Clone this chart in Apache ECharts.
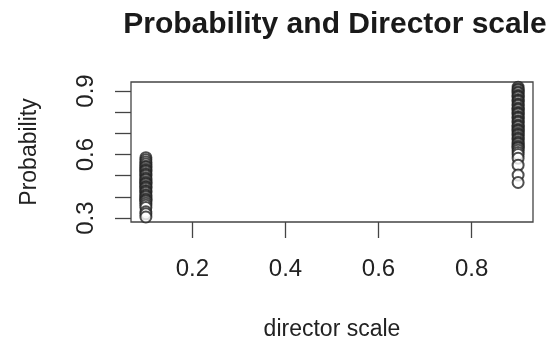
<!DOCTYPE html>
<html><head><meta charset="utf-8">
<script src="https://cdn.jsdelivr.net/npm/echarts@6/dist/echarts.min.js"></script>
<style>html,body{margin:0;padding:0;background:#fff}#c{width:551px;height:344px}</style>
</head><body><div id="c"></div>
<script>
var titleText = 'Probability and Director scale';
var xName = 'director scale';
var yName = 'Probability';
var xTicks = [0.2, 0.4, 0.6, 0.8];
var yTicks = [0.3, 0.4, 0.5, 0.6, 0.7, 0.8, 0.9];
var yLabels = [0.3, 0.6, 0.9];
var lowX = 0.1;
var lowY = [0.585, 0.575, 0.565, 0.555, 0.545, 0.54, 0.53, 0.525, 0.52, 0.51, 0.505, 0.50, 0.49, 0.485, 0.48, 0.47, 0.465, 0.46, 0.45, 0.445, 0.44, 0.43, 0.425, 0.42, 0.41, 0.405, 0.40, 0.39, 0.385, 0.38, 0.37, 0.36, 0.35, 0.33, 0.32, 0.305];
var highX = 0.9;
var highY = [0.918, 0.91, 0.905, 0.895, 0.89, 0.88, 0.875, 0.87, 0.86, 0.855, 0.85, 0.84, 0.835, 0.83, 0.82, 0.815, 0.81, 0.80, 0.795, 0.79, 0.78, 0.775, 0.77, 0.76, 0.755, 0.75, 0.74, 0.735, 0.73, 0.72, 0.715, 0.71, 0.70, 0.695, 0.69, 0.68, 0.675, 0.67, 0.66, 0.655, 0.65, 0.64, 0.635, 0.63, 0.62, 0.61, 0.60, 0.583, 0.55, 0.503, 0.468];

var data = lowY.map(function(v){return [lowX, v];}).concat(highY.map(function(v){return [highX, v];}));
var font = 'Liberation Sans, Arial, sans-serif';
var chart = echarts.init(document.getElementById('c'), null, {renderer:'canvas'});
chart.setOption({
  animation:false,
  backgroundColor:'#fff',
  title:{text:titleText, left:330, top:5, textAlign:'center',
    textStyle:{fontFamily:font, fontSize:30, fontWeight:'bold', color:'#1a1a1a'}},
  grid:{left:131, right:18, top:82, bottom:122, show:true, borderColor:'#444', borderWidth:1.3, backgroundColor:'transparent'},
  xAxis:{type:'value', min:0.068, max:0.932,
    name:xName, nameLocation:'middle', nameGap:96,
    nameTextStyle:{fontFamily:font, fontSize:23, color:'#222'},
    axisLine:{show:false},
    splitLine:{show:false},
    axisTick:{show:true, length:16, customValues:xTicks, lineStyle:{color:'#444', width:1.3}},
    axisLabel:{customValues:xTicks, margin:35, fontFamily:font, fontSize:24, color:'#222',
      formatter:function(v){return v.toFixed(1);}}
  },
  yAxis:{type:'value', min:0.2815, max:0.9425,
    name:yName, nameLocation:'middle', nameGap:90,
    nameTextStyle:{fontFamily:font, fontSize:23, color:'#222'},
    axisLine:{show:false},
    splitLine:{show:false},
    axisTick:{show:true, length:16, customValues:yTicks, lineStyle:{color:'#444', width:1.3}},
    axisLabel:{customValues:yLabels, rotate:90, margin:33, fontFamily:font, fontSize:24, color:'#222',
      formatter:function(v){return v.toFixed(1);}}
  },
  series:[{type:'scatter', data:data, symbol:'emptyCircle', symbolSize:11, clip:false,
    itemStyle:{color:'#222', borderWidth:1.5}}]
});
</script></body></html>
